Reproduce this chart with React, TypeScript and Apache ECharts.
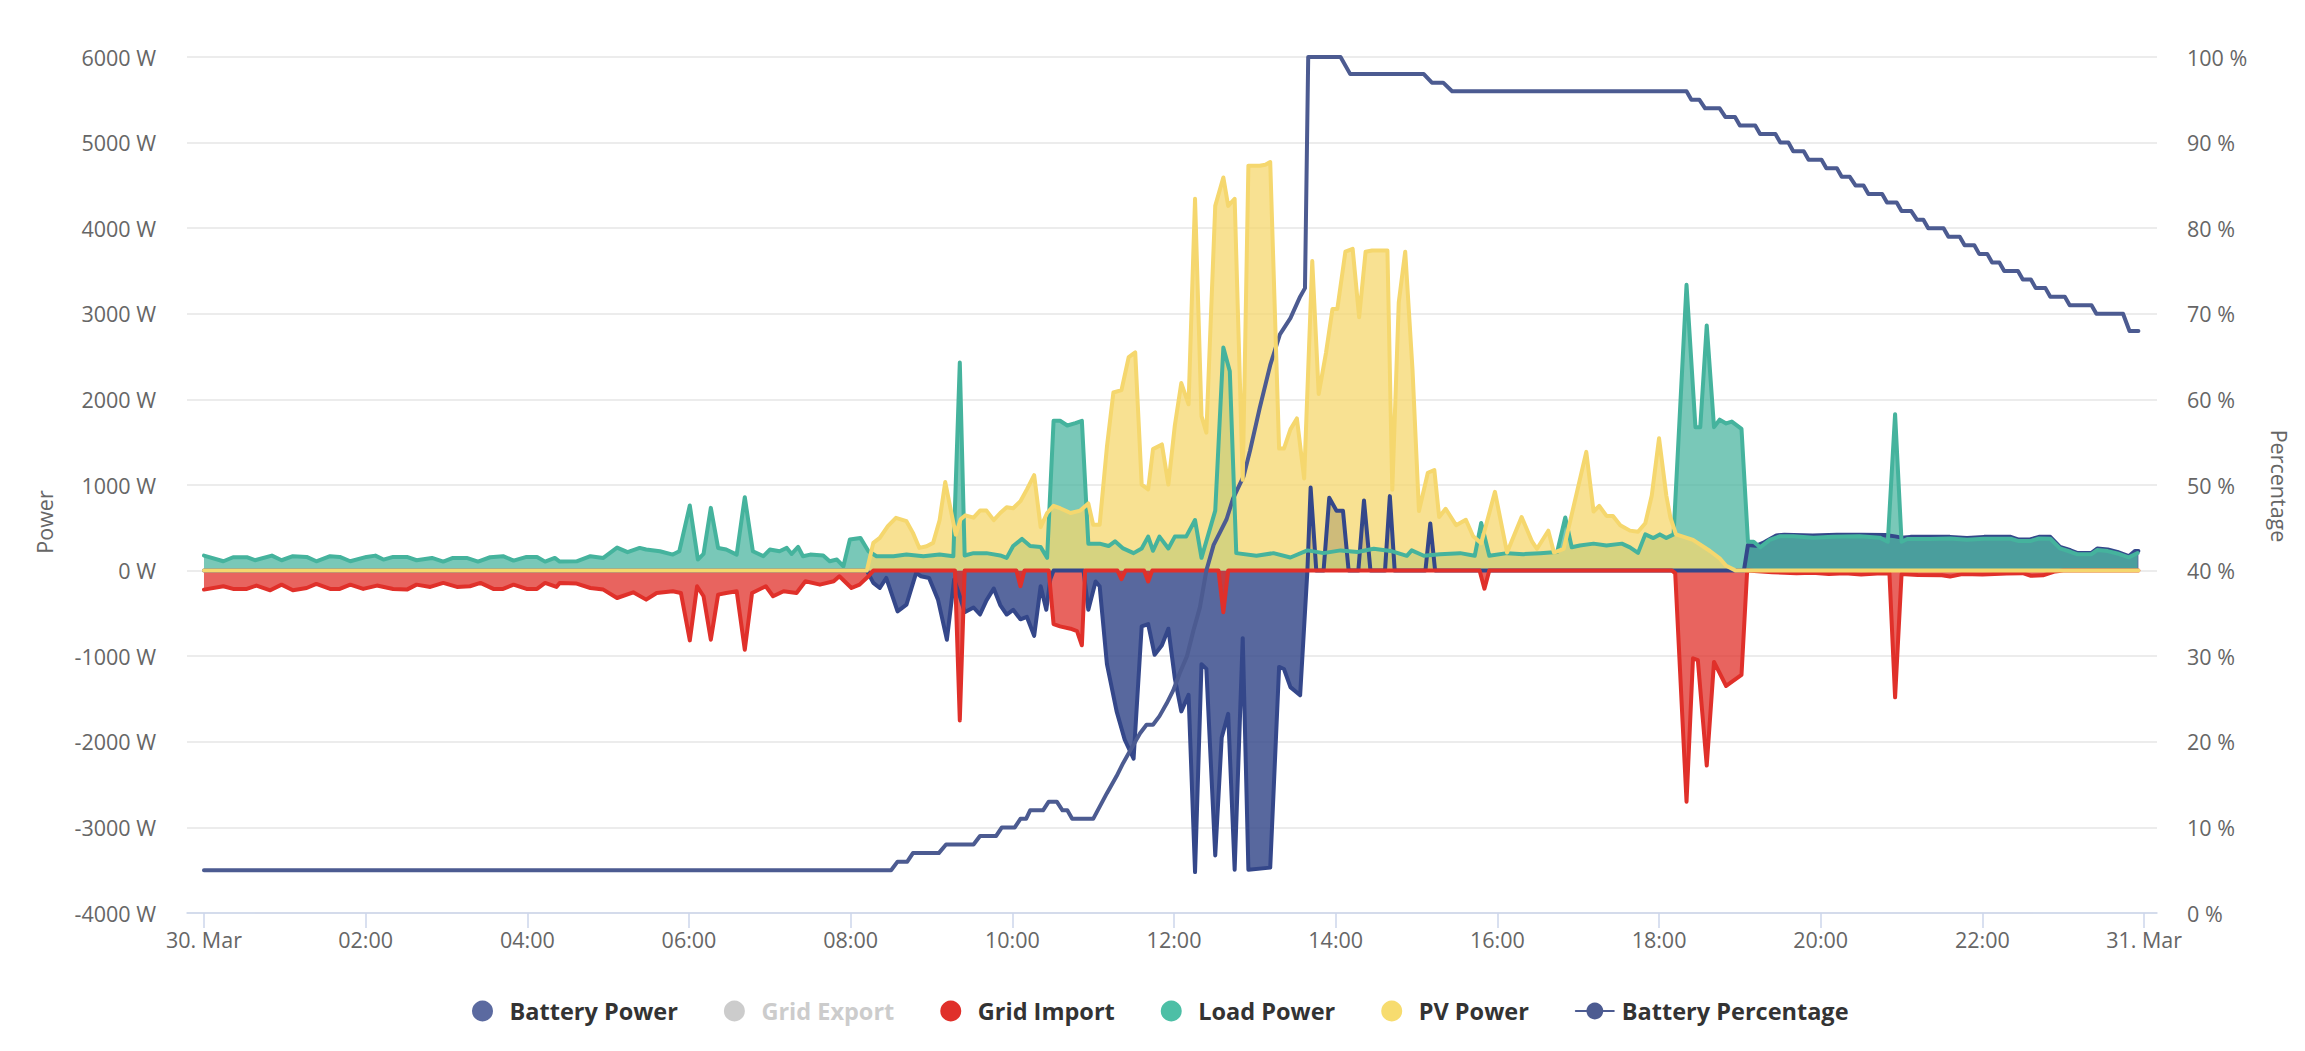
import React, { useEffect, useRef } from "react";
import * as echarts from "echarts";

// x values are hours of 30. Mar (0 = 00:00, 24 = 31. Mar 00:00)
const xTickHours = [0, 2, 4, 6, 8, 10, 12, 14, 16, 18, 20, 22, 24];
const legendNames = ["Battery Power", "Grid Export", "Grid Import", "Load Power", "PV Power", "Battery Percentage"];

const batteryPower: [number, number][] = [
  [0, 0], [8.2, 0], [8.28, -144], [8.36, -203], [8.44, -86], [8.58, -476], [8.69, -398], [8.81, -27], [8.87, -66],
  [8.97, -86], [9.08, -339], [9.19, -807], [9.28, -105], [9.35, -300], [9.41, -486], [9.52, -431], [9.6, -513],
  [9.68, -348], [9.77, -210], [9.85, -403], [9.93, -513], [10.01, -458], [10.1, -569], [10.18, -541], [10.27, -762],
  [10.35, -182], [10.42, -458], [10.47, -99], [10.51, 0], [10.88, 0], [10.94, -458], [11.03, -127], [11.08, -182],
  [11.17, -1093], [11.29, -1645], [11.39, -1976], [11.5, -2197], [11.6, -651], [11.68, -624], [11.76, -983],
  [11.85, -872], [11.93, -679], [12.01, -1258], [12.09, -1645], [12.18, -1452], [12.26, -3522], [12.34, -1093],
  [12.4, -1148], [12.51, -3328], [12.59, -1949], [12.67, -1673], [12.75, -3494], [12.85, -789], [12.92, -3494],
  [13.19, -3470], [13.3, -1125], [13.36, -1150], [13.44, -1361], [13.56, -1457], [13.65, 0], [13.69, 970],
  [13.76, 0], [13.85, 0], [13.92, 850], [14.01, 700], [14.09, 700], [14.16, 0], [14.28, 0], [14.35, 820],
  [14.43, 0], [14.61, 0], [14.67, 870], [14.73, 0], [15.11, 0], [15.17, 550], [15.23, 0], [19.05, 0],
  [19.1, 300], [19.2, 290], [19.3, 330], [19.45, 410], [19.55, 420], [19.9, 410], [20.2, 420], [20.5, 420],
  [20.8, 415], [20.92, 400], [21.0, 385], [21.11, 394], [21.35, 394], [21.6, 394], [21.81, 382], [22.02, 394],
  [22.35, 394], [22.45, 363], [22.59, 363], [22.7, 394], [22.84, 394], [22.96, 277], [23.09, 238], [23.17, 207],
  [23.35, 207], [23.42, 257], [23.55, 246], [23.67, 218], [23.81, 168], [23.89, 230], [23.93, 230],
];

const gridExport: [number, number][] = [[0, 0], [23.93, 0]];

const gridImport: [number, number][] = [
  [0, -222], [0.24, -183], [0.36, -214], [0.53, -214], [0.65, -175], [0.82, -230], [0.96, -164], [1.1, -230],
  [1.27, -203], [1.39, -156], [1.56, -214], [1.68, -214], [1.81, -164], [1.97, -214], [2.14, -175], [2.34, -214],
  [2.51, -222], [2.63, -164], [2.8, -191], [2.96, -144], [3.13, -191], [3.29, -183], [3.42, -144], [3.58, -214],
  [3.7, -214], [3.83, -164], [3.99, -214], [4.12, -214], [4.22, -144], [4.36, -191], [4.4, -144], [4.61, -152],
  [4.78, -203], [4.94, -222], [5.11, -320], [5.31, -254], [5.47, -339], [5.6, -261], [5.8, -242], [5.9, -261],
  [6.01, -815], [6.1, -183], [6.18, -300], [6.27, -807], [6.36, -281], [6.46, -261], [6.59, -242], [6.69, -924],
  [6.78, -261], [6.95, -183], [7.04, -300], [7.17, -242], [7.33, -261], [7.44, -125], [7.62, -164], [7.79, -125],
  [7.86, -66], [8.01, -203], [8.11, -164], [8.22, -66], [8.28, 0], [9.29, 0], [9.35, -1750], [9.41, 0],
  [10.05, 0], [10.1, -182], [10.15, 0], [10.45, 0], [10.51, -624], [10.59, -651], [10.72, -679], [10.8, -707],
  [10.86, -872], [10.9, 0], [11.3, 0], [11.35, -99], [11.4, 0], [11.63, 0], [11.68, -127], [11.73, 0],
  [12.55, 0], [12.61, -486], [12.67, 0], [15.78, 0], [15.84, -211], [15.9, 0], [18.16, 0], [18.2, -30],
  [18.34, -2700], [18.42, -1024], [18.48, -1045], [18.59, -2277], [18.68, -1067], [18.83, -1348], [19.02, -1218],
  [19.09, 0], [19.4, -20], [19.7, -30], [19.9, -25], [20.1, -40], [20.3, -30], [20.5, -45], [20.7, -35],
  [20.85, -30], [20.92, -1480], [21.0, -40], [21.2, -50], [21.5, -55], [21.6, -70], [21.75, -40], [22.0, -45],
  [22.3, -35], [22.5, -30], [22.6, -60], [22.75, -55], [22.9, -10], [23.0, 0], [23.93, 0],
];

const loadPower: [number, number][] = [
  [0, 175], [0.24, 109], [0.36, 156], [0.53, 156], [0.63, 121], [0.84, 175], [0.96, 121], [1.1, 168], [1.27, 160],
  [1.39, 109], [1.56, 168], [1.68, 160], [1.81, 109], [2.01, 160], [2.12, 175], [2.22, 129], [2.34, 160],
  [2.51, 160], [2.63, 121], [2.82, 148], [2.96, 105], [3.08, 148], [3.25, 148], [3.39, 105], [3.54, 156],
  [3.7, 168], [3.83, 117], [3.99, 160], [4.12, 160], [4.22, 105], [4.34, 148], [4.4, 105], [4.61, 109],
  [4.78, 168], [4.94, 148], [5.11, 269], [5.24, 215], [5.39, 265], [5.47, 246], [5.64, 226], [5.8, 187],
  [5.88, 226], [6.01, 760], [6.11, 129], [6.18, 195], [6.27, 733], [6.36, 265], [6.46, 246], [6.59, 187],
  [6.69, 858], [6.79, 226], [6.92, 168], [7.0, 246], [7.12, 226], [7.21, 265], [7.27, 195], [7.35, 276],
  [7.41, 168], [7.5, 187], [7.66, 176], [7.74, 109], [7.83, 129], [7.91, 51], [7.99, 363], [8.12, 382],
  [8.22, 226], [8.32, 168], [8.53, 168], [8.69, 187], [8.9, 168], [9.1, 187], [9.27, 168], [9.35, 2430],
  [9.41, 177], [9.52, 204], [9.68, 204], [9.85, 177], [9.93, 149], [10.01, 287], [10.12, 370], [10.22, 287],
  [10.35, 276], [10.43, 149], [10.51, 1750], [10.59, 1750], [10.68, 1695], [10.78, 1722], [10.86, 1750],
  [10.94, 315], [11.08, 315], [11.19, 287], [11.27, 342], [11.37, 259], [11.5, 204], [11.6, 259], [11.68, 397],
  [11.74, 232], [11.82, 397], [11.93, 259], [12.01, 397], [12.15, 397], [12.26, 591], [12.34, 149], [12.51, 701],
  [12.61, 2605], [12.69, 2329], [12.77, 204], [13.02, 173], [13.23, 204], [13.44, 153], [13.65, 236],
  [13.85, 204], [14.06, 236], [14.27, 217], [14.47, 256], [14.68, 230], [14.88, 173], [14.94, 236], [15.09, 173],
  [15.29, 192], [15.54, 204], [15.72, 173], [15.8, 556], [15.9, 173], [16.12, 204], [16.32, 192], [16.53, 204],
  [16.74, 217], [16.84, 620], [16.92, 272], [17.02, 294], [17.19, 315], [17.35, 294], [17.54, 315], [17.64, 272],
  [17.74, 207], [17.83, 423], [17.93, 380], [18.01, 423], [18.09, 380], [18.18, 423], [18.34, 3339],
  [18.45, 1676], [18.51, 1676], [18.59, 2864], [18.68, 1676], [18.75, 1763], [18.83, 1719], [18.9, 1741],
  [19.02, 1655], [19.1, 337], [19.17, 337], [19.25, 272], [19.37, 359], [19.49, 400], [19.66, 400], [19.91, 385],
  [20.15, 395], [20.48, 400], [20.73, 385], [20.83, 337], [20.92, 1827], [21.0, 337], [21.07, 370], [21.35, 370],
  [21.6, 375], [21.81, 360], [22.02, 372], [22.35, 372], [22.45, 345], [22.59, 345], [22.7, 375], [22.84, 372],
  [22.96, 260], [23.09, 220], [23.17, 192], [23.35, 192], [23.42, 240], [23.55, 228], [23.67, 200], [23.81, 155],
  [23.92, 205],
];

const pvPower: [number, number][] = [
  [0, 0], [8.2, 0], [8.28, 324], [8.36, 382], [8.46, 519], [8.56, 616], [8.69, 577], [8.77, 441], [8.85, 265],
  [8.94, 285], [9.02, 324], [9.1, 589], [9.17, 1034], [9.24, 700], [9.3, 420], [9.36, 600], [9.42, 646],
  [9.52, 618], [9.6, 701], [9.68, 701], [9.77, 590], [9.85, 673], [9.93, 740], [10.01, 729], [10.1, 811],
  [10.18, 949], [10.27, 1115], [10.35, 508], [10.43, 673], [10.51, 756], [10.59, 729], [10.72, 673], [10.84, 701],
  [10.94, 784], [11.0, 535], [11.08, 535], [11.17, 1446], [11.25, 2081], [11.35, 2109], [11.44, 2495],
  [11.52, 2550], [11.6, 1005], [11.68, 949], [11.74, 1419], [11.85, 1474], [11.93, 1005], [12.01, 1695],
  [12.09, 2191], [12.18, 1943], [12.26, 4344], [12.34, 1805], [12.4, 1612], [12.51, 4261], [12.61, 4593],
  [12.67, 4261], [12.75, 4344], [12.85, 1060], [12.92, 4731], [13.06, 4729], [13.13, 4741], [13.19, 4773],
  [13.3, 1425], [13.36, 1425], [13.44, 1650], [13.52, 1778], [13.61, 1077], [13.71, 3617], [13.79, 2064],
  [13.88, 2544], [13.96, 3055], [14.02, 3055], [14.12, 3726], [14.21, 3758], [14.29, 2959], [14.37, 3726],
  [14.45, 3739], [14.64, 3739], [14.7, 945], [14.78, 3131], [14.86, 3726], [14.95, 2352], [15.03, 696],
  [15.14, 1143], [15.22, 1175], [15.28, 626], [15.36, 722], [15.49, 530], [15.61, 594], [15.7, 402], [15.8, 319],
  [15.97, 920], [16.12, 211], [16.3, 626], [16.43, 338], [16.49, 255], [16.63, 466], [16.7, 211], [16.82, 255],
  [16.9, 575], [17.1, 1387], [17.19, 691], [17.26, 756], [17.35, 639], [17.43, 639], [17.52, 531], [17.64, 467],
  [17.74, 454], [17.83, 553], [17.91, 877], [18.0, 1547], [18.09, 877], [18.14, 622], [18.21, 423], [18.42, 359],
  [18.63, 229], [18.75, 143], [18.83, 56], [18.95, 0], [23.93, 0],
];

const batteryPercentage: [number, number][] = [
  [0, 5], [8.5, 5], [8.58, 6], [8.7, 6], [8.77, 7], [9.09, 7], [9.18, 8], [9.52, 8], [9.6, 9], [9.8, 9],
  [9.87, 10], [10.03, 10], [10.1, 11], [10.17, 11], [10.22, 12], [10.38, 12], [10.45, 13], [10.55, 13],
  [10.62, 12], [10.68, 12], [10.74, 11], [11.0, 11], [11.17, 14], [11.29, 16], [11.37, 17.5], [11.46, 19],
  [11.58, 21], [11.66, 22], [11.74, 22], [11.82, 23], [11.91, 24.5], [11.99, 26], [12.07, 28], [12.16, 30],
  [12.24, 33], [12.32, 35.7], [12.4, 40], [12.49, 43], [12.57, 44.5], [12.65, 46], [12.73, 48.4], [12.86, 51],
  [12.94, 54], [13.06, 59], [13.19, 64], [13.31, 67.6], [13.44, 69.5], [13.56, 72], [13.62, 73], [13.66, 100],
  [14.06, 100], [14.18, 98], [15.09, 98], [15.19, 97], [15.33, 97], [15.44, 96], [18.34, 96], [18.4, 95],
  [18.5, 95], [18.57, 94], [18.75, 94], [18.82, 93], [18.94, 93], [19.0, 92], [19.19, 92], [19.25, 91],
  [19.44, 91], [19.5, 90], [19.6, 90], [19.66, 89], [19.79, 89], [19.85, 88], [20.01, 88], [20.07, 87],
  [20.2, 87], [20.26, 86], [20.36, 86], [20.43, 85], [20.53, 85], [20.59, 84], [20.76, 84], [20.82, 83],
  [20.94, 83], [21.0, 82], [21.12, 82], [21.19, 81], [21.27, 81], [21.33, 80], [21.52, 80], [21.58, 79],
  [21.72, 79], [21.78, 78], [21.9, 78], [21.96, 77], [22.06, 77], [22.12, 76], [22.21, 76], [22.27, 75],
  [22.44, 75], [22.5, 74], [22.6, 74], [22.66, 73], [22.78, 73], [22.84, 72], [23.02, 72], [23.08, 71],
  [23.35, 71], [23.41, 70], [23.74, 70], [23.82, 68], [23.93, 68],
];

const FONT = "'Open Sans', 'Noto Sans', sans-serif";

function hourLabel(v: number): string {
  const h = Math.round(v);
  if (h === 0) return "30. Mar";
  if (h === 24) return "31. Mar";
  return (h < 10 ? "0" : "") + h + ":00";
}

function areaSeries(name: string, data: [number, number][], line: string, legendColor: string, fill: string) {
  return {
    name,
    type: "line",
    data,
    yAxisIndex: 0,
    symbol: "circle",
    showSymbol: false,
    smooth: false,
    lineStyle: { color: line, width: 4, join: "round", cap: "round" },
    itemStyle: { color: legendColor },
    areaStyle: { color: fill, opacity: 1, origin: "auto" },
    emphasis: { disabled: true },
  };
}

export default function App() {
  const ref = useRef<HTMLDivElement>(null);
  useEffect(() => {
    document.body.style.margin = "0";
    if (!ref.current) return;
    const chart = echarts.init(ref.current, undefined, { renderer: "svg" });
    chart.setOption({
      animation: false,
      backgroundColor: "#ffffff",
      grid: { left: 187, right: 148, top: 57, bottom: 138, containLabel: false },
      xAxis: {
        type: "value",
        min: -0.21,
        max: 24.16,
        axisLine: { show: true, onZero: false, lineStyle: { color: "#ccd6eb", width: 1.5 } },
        axisTick: { show: true, customValues: xTickHours, length: 15, lineStyle: { color: "#ccd6eb", width: 1.5 } },
        axisLabel: { customValues: xTickHours, formatter: hourLabel, color: "#666666", fontSize: 21.5, fontFamily: FONT, margin: 15 },
        splitLine: { show: false },
      },
      yAxis: [
        {
          type: "value",
          min: -4000,
          max: 6000,
          interval: 1000,
          position: "left",
          axisLine: { show: false },
          axisTick: { show: false },
          axisLabel: { formatter: (v: number) => v + " W", color: "#666666", fontSize: 21.5, fontFamily: FONT, margin: 31 },
          splitLine: { show: true, lineStyle: { color: "#e6e6e6", width: 1.5 } },
        },
        {
          type: "value",
          min: 0,
          max: 100,
          interval: 10,
          position: "right",
          axisLine: { show: false },
          axisTick: { show: false },
          axisLabel: { formatter: (v: number) => v + " %", color: "#666666", fontSize: 21.5, fontFamily: FONT, margin: 30 },
          splitLine: { show: false },
        },
      ],
      legend: {
        left: 467,
        top: 994,
        itemWidth: 38,
        itemHeight: 21,
        itemGap: 46,
        inactiveColor: "#cccccc",
        selected: { "Grid Export": false },
        textStyle: { fontFamily: FONT, fontSize: 23.5, fontWeight: "bold", color: "#333333", padding: [0, 0, 0, 3] },
        data: [
          { name: legendNames[0], icon: "circle" },
          { name: legendNames[1], icon: "circle" },
          { name: legendNames[2], icon: "circle" },
          { name: legendNames[3], icon: "circle" },
          { name: legendNames[4], icon: "circle" },
          { name: legendNames[5] },
        ],
      },
      graphic: [
        {
          type: "text",
          x: 44,
          y: 522,
          rotation: Math.PI / 2,
          style: { text: "Power", fill: "#666666", fontSize: 21.5, fontFamily: FONT, align: "center", verticalAlign: "middle" },
        },
        {
          type: "text",
          x: 2279,
          y: 486,
          rotation: -Math.PI / 2,
          style: { text: "Percentage", fill: "#666666", fontSize: 21.5, fontFamily: FONT, align: "center", verticalAlign: "middle" },
        },
      ],
      series: [
        areaSeries(legendNames[0], batteryPower, "#34478a", "#5b6aa0", "rgba(59,78,141,0.85)"),
        areaSeries(legendNames[1], gridExport, "#c8c8c8", "#c8c8c8", "rgba(200,200,200,0.75)"),
        areaSeries(legendNames[2], gridImport, "#e0302a", "#e0302a", "rgba(224,48,42,0.75)"),
        {
          name: legendNames[5],
          type: "line",
          data: batteryPercentage,
          yAxisIndex: 1,
          symbol: "circle",
          showSymbol: false,
          clip: false,
          lineStyle: { color: "#4c5b91", width: 4, join: "round", cap: "round" },
          itemStyle: { color: "#4c5b91" },
          emphasis: { disabled: true },
        },
        areaSeries(legendNames[3], loadPower, "#45b39d", "#4dbfa6", "rgba(69,179,157,0.72)"),
        areaSeries(legendNames[4], pvPower, "#f5d76e", "#f7dc6f", "rgba(245,215,110,0.75)"),
      ],
    });
    return () => chart.dispose();
  }, []);
  return <div ref={ref} style={{ width: 2305, height: 1051 }} />;
}
